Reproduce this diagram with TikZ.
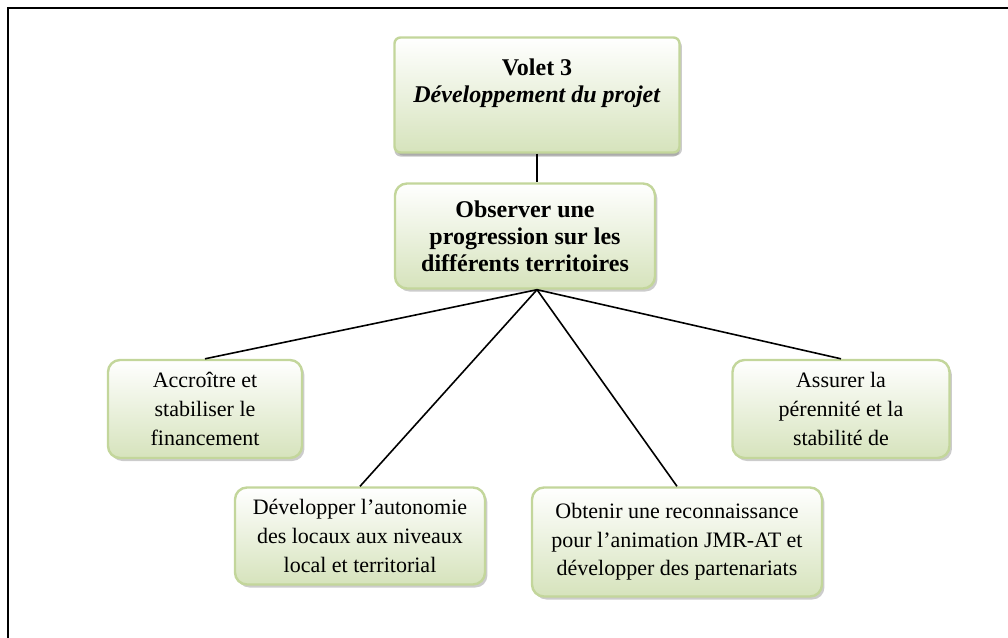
\documentclass[tikz,border=0pt]{standalone}
\usepackage{fontspec}
\setmainfont{Liberation Serif}
\usetikzlibrary{calc, positioning, shadows}
\definecolor{boxline}{HTML}{C3D69B}
\definecolor{boxfill}{HTML}{D6E3BC}
\tikzset{
    goal/.style={draw=boxline, line width=1.2pt, rounded corners=6pt, top color=white, bottom color=boxfill,
        align=center, inner sep=2pt, font=\fontsize{11}{14.3}\selectfont,
        drop shadow={shadow xshift=1.2pt, shadow yshift=-1.5pt, fill=black!40}},
    link/.style={line width=0.8pt}
}

\begin{document}
\begin{tikzpicture}[x=0.5pt,y=-0.5pt]
            \useasboundingbox (0,0) rectangle (1008,638);
            \draw[line width=1.3pt] (8,8) rectangle (1040,670);
            % volet
            \node[goal, font=\bfseries\fontsize{12}{13.5}\selectfont, rounded corners=3pt, minimum width=142.5pt, minimum height=57.5pt,
                text depth=14pt, drop shadow={shadow xshift=0pt, shadow yshift=-2pt, fill=black!45}] (volet) at (537,95)
                {Volet 3\\\textit{Développement du projet}};
            \node[goal, font=\bfseries\fontsize{12}{13.5}\selectfont, minimum width=130pt, minimum height=52.5pt] (obs) at (525,236)
                {Observer une\\progression sur les\\différents territoires};
            % sous-objectifs
            \node[goal, minimum width=97pt, minimum height=49pt] (acc) at (205,409) {Accroître et\\stabiliser le\\financement};
            \node[goal, minimum width=108.5pt, minimum height=49pt] (ass) at (841,409) {Assurer la\\pérennité et la\\stabilité de};
            \node[goal, minimum width=125pt, minimum height=48.5pt] (dev) at (360,536) {Développer l’autonomie\\des locaux aux niveaux\\local et territorial};
            \node[goal, minimum width=145pt, minimum height=54.5pt] (obt) at (677,542) {Obtenir une reconnaissance\\pour l’animation JMR-AT et\\développer des partenariats};
            % liens
            \draw[link] (volet.south) -- (volet.south |- obs.north);
            \coordinate (hub) at (obs.south -| volet.south);
            \foreach \t in {acc,dev,obt,ass}
                \draw[link] (hub) -- (\t.north);
        \end{tikzpicture}
\end{document}
